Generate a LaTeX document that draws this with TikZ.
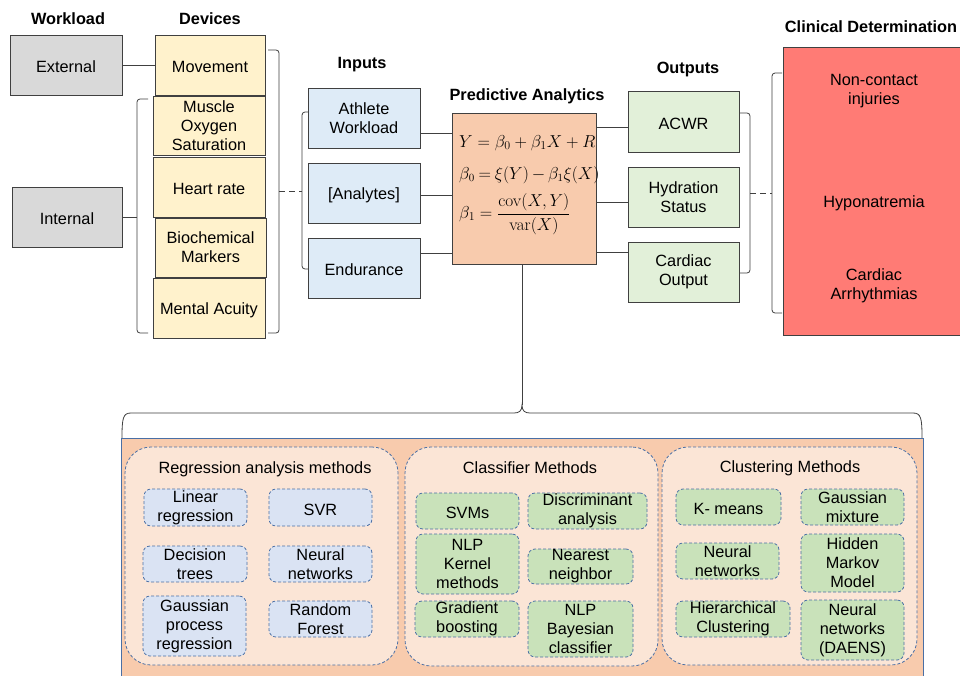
\documentclass[tikz,border=0pt]{standalone}
\usepackage[no-math]{fontspec}
\setmainfont{Liberation Sans}
\usetikzlibrary{calc}
\definecolor{gbox}{HTML}{D9D9D9}
\definecolor{ybox}{HTML}{FFF2CC}
\definecolor{bbox}{HTML}{DEEBF7}
\definecolor{pabox}{HTML}{F8CBAD}
\definecolor{gnbox}{HTML}{E2F0D9}
\definecolor{clin}{HTML}{FF7B75}
\definecolor{panelc}{HTML}{F8CBAD}
\definecolor{groupc}{HTML}{FBE5D6}
\definecolor{iblue}{HTML}{DAE3F3}
\definecolor{igreen}{HTML}{C9E2BA}
\definecolor{dashc}{HTML}{4A6FA5}
\definecolor{linec}{HTML}{404040}
\tikzset{
  every node/.style={font=\fontsize{16.3}{19}\selectfont, align=center, inner sep=0pt},
  txtdown/.style={execute at begin node={\rule{0pt}{15.5pt}}},
  box/.style={draw=linec, line width=0.9pt, txtdown},
  hdr/.style={font=\fontsize{16.3}{19}\selectfont\bfseries},
  conn/.style={draw=linec, line width=0.9pt},
  brk/.style={draw=linec, line width=0.8pt, rounded corners=3pt},
  grp/.style={draw=dashc, fill=groupc, line width=0.8pt, dash pattern=on 3pt off 2pt, rounded corners=26pt},
  item/.style={draw=dashc, line width=0.8pt, dash pattern=on 3pt off 2pt, rounded corners=7pt, txtdown},
  bitem/.style={item, fill=iblue},
  gitem/.style={item, fill=igreen},
}
\begin{document}
\begin{tikzpicture}[x=1pt,y=-1pt]
\clip (0,0) rectangle (960,675);
\fill[white] (0,0) rectangle (960,675);
% headers
\node[hdr] (hw) at (68,19) {Workload};
\node[hdr] (hd) at (210,19) {Devices};
\node[hdr] (hi) at (362,65) {Inputs};
\node[hdr] (hp) at (527,96) {Predictive Analytics};
\node[hdr] (ho) at (688,69) {Outputs};
\node[hdr] (hc) at (871,27) {Clinical Determination};
% workload
\node[box, fill=gbox, minimum width=112pt, minimum height=60pt] (ext) at (66,65) {External};
\node[box, fill=gbox, minimum width=110pt, minimum height=60pt] (int) at (67,217) {Internal};
% devices
\node[box, fill=ybox, minimum width=110pt, minimum height=60pt] (mov) at (210,65) {Movement};
\node[box, fill=ybox, minimum width=112pt, minimum height=59pt] (mos) at (209,125.5) {Muscle\\Oxygen\\Saturation};
\node[box, fill=ybox, minimum width=112pt, minimum height=60pt] (hr) at (209,187) {Heart rate};
\node[box, fill=ybox, minimum width=111pt, minimum height=59pt] (bio) at (210.5,247.5) {Biochemical\\Markers};
\node[box, fill=ybox, minimum width=112pt, minimum height=60pt] (ma) at (209,308) {Mental Acuity};
% inputs
\node[box, fill=bbox, minimum width=112pt, minimum height=60pt] (aw) at (364,118) {Athlete\\Workload};
\node[box, fill=bbox, minimum width=112pt, minimum height=60pt] (an) at (364,193) {[Analytes]};
\node[box, fill=bbox, minimum width=112pt, minimum height=60pt] (en) at (364,268) {Endurance};
% predictive analytics
\node[box, fill=pabox, minimum width=144pt, minimum height=151pt] (pa) at (524,188.5) {};
\node[anchor=west] (eq1) at (459,143) {\fontsize{17}{20}\selectfont $Y=\beta_0+\beta_1X+R$};
\node[anchor=west] (eq2) at (459,175) {\fontsize{16}{20}\selectfont $\medmuskip=3mu\thickmuskip=4mu\beta_0=\xi(Y)-\beta_1\xi(X)$};
\node[anchor=west] (eq3) at (459,214) {\fontsize{17}{20}\selectfont $\displaystyle\beta_1=\frac{\mathrm{cov}(X,Y)}{\mathrm{var}(X)}$};
% outputs
\node[box, fill=gnbox, minimum width=111pt, minimum height=61pt] (acwr) at (683.5,121.5) {ACWR};
\node[box, fill=gnbox, minimum width=111pt, minimum height=60pt] (hyd) at (683.5,197) {Hydration\\Status};
\node[box, fill=gnbox, minimum width=111pt, minimum height=60pt] (co) at (683.5,272) {Cardiac\\Output};
% clinical
\node[box, fill=clin, minimum width=179pt, minimum height=288pt] (cl) at (872.5,191) {};
\node (c1) at (874,91) {Non-contact\\injuries};
\node (c2) at (874,203) {Hyponatremia};
\node (c3) at (874,286) {Cardiac\\Arrhythmias};
% connectors
\draw[conn] (ext.east) -- (mov.west);
\coordinate (ibr) at (137,217);
\draw[conn] (int.east) -- (ibr);
\draw[brk] (148,99) -- (137,99) -- (137,333) -- (148,333);
\draw[brk] (268,50) -- (279,50) -- (279,333) -- (268,333);
\coordinate (dtip) at (279,191);
\coordinate (itip) at (302,191);
\draw[conn, line width=0.8pt, dash pattern=on 6pt off 4pt] (dtip) -- (itip);
\draw[brk] (308,112) -- (302,112) -- (302,269) -- (308,269);
\draw[conn] ([yshift=-15pt]aw.east) -- ++(32,0);
\draw[conn] ([yshift=-2pt]an.east) -- ++(32,0);
\draw[conn] ([yshift=15pt]en.east) -- ++(32,0);
\draw[conn] ([yshift=-5.5pt]acwr.west) -- ++(-32,0);
\draw[conn] ([yshift=-5pt]hyd.west) -- ++(-32,0);
\draw[conn] ([yshift=20pt]co.west) -- ++(-32,0);
\draw[brk] (739,113) -- (750,113) -- (750,273) -- (739,273);
\coordinate (otip) at (750,193);
\coordinate (ctip) at (772,193);
\draw[conn, line width=0.8pt, dash pattern=on 6pt off 4pt] (otip) -- (ctip);
\draw[brk] (782,73) -- (772,73) -- (772,313) -- (782,313);
% brace
\coordinate (btip) at (522,405);
\draw[conn] (pa.south -| btip) -- (btip);
\draw[conn, line width=0.8pt] (122,438) .. controls (122,418) and (123,413) .. (131,413) -- (514,413) .. controls (519,413) and (522,411) .. (btip) .. controls (522,411) and (525,413) .. (530,413) -- (913,413) .. controls (921,413) and (922,418) .. (922,438);
% bottom panel
\node[draw=dashc, fill=panelc, line width=0.9pt, minimum width=802pt, minimum height=250pt, anchor=north west] (pan) at (121,438) {};
\node[grp, minimum width=273pt, minimum height=218pt] (reg) at (261.5,556) {};
\node[grp, minimum width=253pt, minimum height=219pt] (cls) at (531.5,556.5) {};
\node[grp, minimum width=255pt, minimum height=218pt] (clu) at (789.5,556) {};
\node (treg) at (265,469) {Regression analysis methods};
\node (tcls) at (530,468) {Classifier Methods};
\node (tclu) at (790,468) {Clustering Methods};
% regression items
\node[bitem, minimum width=103pt, minimum height=37pt] (lr) at (195.5,507.5) {Linear\\regression};
\node[bitem, minimum width=103pt, minimum height=37pt] (svr) at (320.5,507.5) {SVR};
\node[bitem, minimum width=104pt, minimum height=36pt] (dt) at (195,564) {Decision\\trees};
\node[bitem, minimum width=103pt, minimum height=36pt] (nn) at (320.5,564) {Neural\\networks};
\node[bitem, minimum width=103pt, minimum height=60pt] (gpr) at (194.5,626) {Gaussian\\process\\regression};
\node[bitem, minimum width=103pt, minimum height=36pt] (rf) at (320.5,619) {Random\\Forest};
% classifier items
\node[gitem, minimum width=103pt, minimum height=36pt] (svm) at (467.5,511) {SVMs};
\node[gitem, minimum width=119pt, minimum height=36pt] (da) at (587.5,511) {Discriminant\\analysis};
\node[gitem, minimum width=103pt, minimum height=60pt] (nlpk) at (467.5,564) {NLP\\Kernel\\methods};
\node[gitem, minimum width=105pt, minimum height=35pt] (nnb) at (580.5,566.5) {Nearest\\neighbor};
\node[gitem, minimum width=104pt, minimum height=36pt] (gb) at (467,619) {Gradient\\boosting};
\node[gitem, minimum width=105pt, minimum height=56pt] (nlpb) at (580.5,629) {NLP\\Bayesian\\classifier};
% clustering items
\node[gitem, minimum width=105pt, minimum height=36pt] (km) at (728.5,507) {K- means};
\node[gitem, minimum width=103pt, minimum height=36pt] (gm) at (852.5,507) {Gaussian\\mixture};
\node[gitem, minimum width=103pt, minimum height=36pt] (cnn) at (727.5,561) {Neural\\networks};
\node[gitem, minimum width=103pt, minimum height=58pt] (hmm) at (852.5,563) {Hidden\\Markov\\Model};
\node[gitem, minimum width=114pt, minimum height=36pt] (hc) at (733,619) {Hierarchical\\Clustering};
\node[gitem, minimum width=103pt, minimum height=60pt] (dae) at (852.5,630) {Neural\\networks\\(DAENS)};
\end{tikzpicture}
\end{document}
